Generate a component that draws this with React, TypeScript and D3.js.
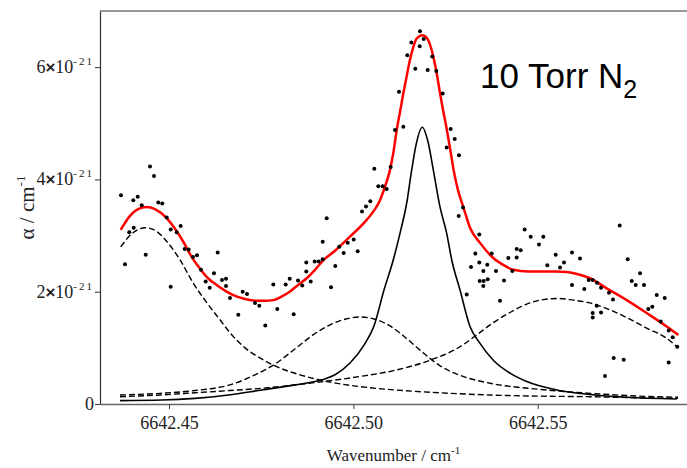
import React, { useEffect, useRef } from "react";
import * as d3 from "d3";

// measured absorption, wavenumber in cm-1, alpha in units of 1e-21 cm-1
const pointWn = [
  6642.43698, 6642.43807, 6642.43923, 6642.44032, 6642.44043, 6642.44151, 6642.4426, 6642.44368, 6642.44485, 6642.44593,
  6642.4471, 6642.44818, 6642.44938, 6642.45046, 6642.45046, 6642.45209, 6642.45317, 6642.45426, 6642.45534, 6642.45651,
  6642.45759, 6642.45868, 6642.45995, 6642.46104, 6642.4622, 6642.46321, 6642.46437, 6642.46546, 6642.46546, 6642.46654,
  6642.4688, 6642.46999, 6642.47116, 6642.47333, 6642.47449, 6642.47829, 6642.47937, 6642.48165, 6642.48274, 6642.48382,
  6642.48499, 6642.47612, 6642.48615, 6642.48724, 6642.48724, 6642.48843, 6642.48952, 6642.4906, 6642.49169, 6642.49394,
  6642.4951, 6642.51808, 6642.51572, 6642.51908, 6642.518, 6642.51463, 6642.52141, 6642.5168, 6642.52017, 6642.5225,
  6642.51238, 6642.52423, 6642.5113, 6642.51355, 6642.5264, 6642.52749, 6642.52532, 6642.52865, 6642.50568, 6642.51013,
  6642.50677, 6642.50796, 6642.50904, 6642.5046, 6642.50343, 6642.50235, 6642.49277, 6642.52974, 6642.52857, 6642.49169,
  6642.49619, 6642.49847, 6642.5001, 6642.49738, 6642.50118, 6642.53416, 6642.53308, 6642.53752, 6642.53416, 6642.53191,
  6642.53525, 6642.53427, 6642.53535, 6642.53525, 6642.53644, 6642.53633, 6642.53869, 6642.53074, 6642.53978, 6642.54086,
  6642.54203, 6642.54311, 6642.5443, 6642.5443, 6642.54539, 6642.54647, 6642.5481, 6642.55035, 6642.55152, 6642.5526,
  6642.55488, 6642.55605, 6642.55713, 6642.5593, 6642.5593, 6642.56147, 6642.56264, 6642.56383, 6642.56492, 6642.56608,
  6642.56717, 6642.56934, 6642.57042, 6642.566, 6642.56492, 6642.56492, 6642.56717, 6642.57224, 6642.57441, 6642.5755,
  6642.57658, 6642.57775, 6642.57883, 6642.58, 6642.58108, 6642.58228, 6642.58336, 6642.58445, 6642.58553, 6642.58662,
  6642.58786, 6642.58553, 6642.57061, 6642.57333, 6642.56825,
];
const pointAlpha = [
  3.72, 2.49, 3.06, 3.63, 3.14, 3.69, 3.54, 2.66, 4.23, 4.06,
  3.59, 3.57, 3.32, 3.11, 2.09, 3.06, 3.17, 2.76, 2.75, 2.62,
  2.65, 2.39, 2.18, 2.07, 2.33, 2.7, 2.21, 2.23, 2.1, 1.89,
  1.59, 2.0, 1.96, 1.8, 1.75, 2.13, 1.69, 2.13, 2.23, 1.6,
  2.2, 1.4, 2.11, 2.36, 2.52, 2.18, 2.54, 2.54, 2.58, 2.08,
  2.46, 6.64, 6.44, 6.5, 6.37, 6.21, 6.19, 5.97, 5.95, 5.93,
  5.56, 5.53, 4.88, 4.94, 4.9, 4.72, 4.57, 4.43, 4.19, 4.22,
  3.88, 3.88, 3.83, 3.61, 3.52, 3.43, 3.31, 3.5, 3.35, 2.89,
  2.8, 2.87, 2.93, 2.69, 2.72, 3.02, 2.68, 2.68, 2.52, 2.44,
  2.37, 2.19, 2.19, 2.1, 2.22, 2.48, 2.37, 1.95, 1.84, 2.2,
  2.6, 2.37, 2.76, 2.61, 2.74, 3.11, 2.98, 2.84, 2.98, 2.47,
  2.66, 2.43, 2.52, 2.7, 2.12, 2.59, 2.05, 2.21, 2.21, 2.16,
  2.07, 1.98, 1.86, 1.75, 1.62, 1.54, 1.63, 3.18, 2.58, 2.19,
  2.12, 2.33, 2.12, 1.69, 1.73, 1.94, 1.47, 1.89, 1.31, 1.19,
  1.02, 0.74, 0.82, 0.79, 0.5,
];

// total fit (red)
const fitWn = [
  6642.4369, 6642.43942, 6642.44159, 6642.44395, 6642.4462, 6642.44938, 6642.45163, 6642.45388, 6642.45597, 6642.45841,
  6642.46058, 6642.46294, 6642.46519, 6642.46744, 6642.47061, 6642.47379, 6642.47604, 6642.47829, 6642.48038, 6642.48255,
  6642.48499, 6642.48735, 6642.4896, 6642.49185, 6642.49502, 6642.49909, 6642.50362, 6642.50587, 6642.50723, 6642.50858,
  6642.50994, 6642.51089, 6642.51176, 6642.51265, 6642.51355, 6642.51447, 6642.51536, 6642.51618, 6642.51718, 6642.5187,
  6642.5197, 6642.52052, 6642.52168, 6642.52269, 6642.5235, 6642.52431, 6642.52526, 6642.52621, 6642.5273, 6642.52838,
  6642.52982, 6642.53164, 6642.53435, 6642.53796, 6642.54113, 6642.54338, 6642.54737, 6642.55152, 6642.55496, 6642.55786,
  6642.56093, 6642.56418, 6642.56871, 6642.57414, 6642.57956, 6642.58499, 6642.58813,
];
const fitAlpha = [
  3.1, 3.35, 3.47, 3.51, 3.47, 3.31, 3.12, 2.89, 2.64, 2.41,
  2.24, 2.12, 2.02, 1.94, 1.87, 1.84, 1.84, 1.85, 1.91, 1.99,
  2.12, 2.24, 2.39, 2.56, 2.73, 2.98, 3.28, 3.47, 3.63, 3.87,
  4.17, 4.49, 4.88, 5.2, 5.53, 5.84, 6.13, 6.34, 6.51, 6.57,
  6.54, 6.45, 6.19, 5.86, 5.54, 5.24, 4.92, 4.56, 4.13, 3.81,
  3.51, 3.14, 2.87, 2.6, 2.46, 2.39, 2.36, 2.36, 2.36, 2.35,
  2.31, 2.24, 2.06, 1.85, 1.62, 1.38, 1.23,
];

// strong central component (solid)
const mainWn = [
  6642.43671, 6642.44802, 6642.45705, 6642.46608, 6642.47514, 6642.48417, 6642.49142, 6642.49502, 6642.49909, 6642.50289,
  6642.5056, 6642.50831, 6642.51084, 6642.51265, 6642.51447, 6642.51583, 6642.51699, 6642.5187, 6642.52025, 6642.52168,
  6642.5235, 6642.52532, 6642.52667, 6642.52893, 6642.53164, 6642.53435, 6642.53796, 6642.54249, 6642.54702, 6642.55515,
  6642.56418, 6642.57414, 6642.5877,
];
const mainAlpha = [
  0.06, 0.07, 0.1, 0.16, 0.25, 0.34, 0.43, 0.52, 0.73, 1.05,
  1.39, 2.03, 2.57, 3.04, 3.58, 4.17, 4.61, 4.93, 4.67, 4.17,
  3.51, 3.04, 2.57, 2.03, 1.38, 1.08, 0.78, 0.55, 0.4, 0.25,
  0.17, 0.12, 0.09,
];

// dashed components
const leftWn = [
  6642.4369, 6642.44024, 6642.44349, 6642.44675, 6642.44946, 6642.45298, 6642.45651, 6642.46031, 6642.46383, 6642.46654,
  6642.47061, 6642.47468, 6642.48011, 6642.48553, 6642.49367, 6642.5018, 6642.5113, 6642.5235, 6642.53706, 6642.55062,
  6642.56418, 6642.57775, 6642.58805,
];
const leftAlpha = [
  2.8, 3.05, 3.14, 3.07, 2.89, 2.57, 2.16, 1.8, 1.5, 1.27,
  1.0, 0.82, 0.64, 0.52, 0.39, 0.31, 0.25, 0.2, 0.16, 0.14,
  0.13, 0.11, 0.1,
];

const midWn = [
  6642.43671, 6642.44756, 6642.45841, 6642.46654, 6642.47333, 6642.47875, 6642.48417, 6642.48906, 6642.49367, 6642.49774,
  6642.5018, 6642.50587, 6642.50994, 6642.51401, 6642.51808, 6642.5235, 6642.53028, 6642.53706, 6642.55062, 6642.56418,
  6642.57775, 6642.58805,
];
const midAlpha = [
  0.16, 0.19, 0.25, 0.34, 0.52, 0.71, 0.98, 1.23, 1.41, 1.51,
  1.55, 1.51, 1.39, 1.19, 0.96, 0.68, 0.48, 0.37, 0.26, 0.19,
  0.14, 0.12,
];

const rightWn = [
  6642.43671, 6642.44756, 6642.45705, 6642.46654, 6642.47514, 6642.48417, 6642.49312, 6642.5018, 6642.5113, 6642.52079,
  6642.52893, 6642.53345, 6642.53796, 6642.54249, 6642.54702, 6642.55152, 6642.55551, 6642.55966, 6642.56418, 6642.56871,
  6642.57414, 6642.57956, 6642.58499, 6642.58805,
];
const rightAlpha = [
  0.13, 0.16, 0.2, 0.24, 0.28, 0.34, 0.41, 0.49, 0.6, 0.78,
  1.02, 1.23, 1.45, 1.63, 1.78, 1.86, 1.88, 1.85, 1.8, 1.7,
  1.54, 1.35, 1.17, 1.0,
];

const xTicks = [6642.45, 6642.5, 6642.55];
const yTicks = [0, 2, 4, 6];

const W = 687;
const H = 468;
const serif = "'Liberation Serif', 'Times New Roman', serif";
const sans = "'Liberation Sans', Arial, sans-serif";

const App = () => {
  const ref = useRef<SVGSVGElement>(null);

  useEffect(() => {
    const svg = d3.select(ref.current);
    svg.selectAll("*").remove();

    const margin = { top: 11, right: 0, bottom: 64, left: 100 };

    const x = d3.scaleLinear()
      .domain([6642.43129, 6642.59049])
      .range([margin.left, W - margin.right]);
    const y = d3.scaleLinear()
      .domain([0, 7])
      .range([H - margin.bottom, margin.top]);

    const line = d3.line<[number, number]>()
      .x(d => x(d[0]))
      .y(d => y(d[1]))
      .curve(d3.curveMonotoneX);

    // frame: top line, left and bottom axes
    svg.append("line")
      .attr("x1", x.range()[0]).attr("x2", x.range()[1])
      .attr("y1", y.range()[1]).attr("y2", y.range()[1])
      .attr("stroke", "#333").attr("stroke-width", 1.2);

    const xAxis = svg.append("g")
      .attr("transform", `translate(0,${y(0)})`)
      .call(d3.axisBottom(x).tickValues(xTicks).tickSize(5).tickSizeOuter(0).tickFormat(d3.format(".2f")));
    xAxis.select(".domain").attr("stroke", "#666").attr("stroke-width", 1.6);
    xAxis.selectAll(".tick line").attr("stroke", "#444");
    xAxis.selectAll(".tick text")
      .attr("font-family", serif).attr("font-size", 18).attr("fill", "#222").attr("dy", null).attr("y", 25);

    const yAxis = svg.append("g")
      .attr("transform", `translate(${x.range()[0]},0)`)
      .call(d3.axisLeft(y).tickValues(yTicks).tickSize(5).tickSizeOuter(0).tickFormat(() => ""));
    yAxis.select(".domain").attr("stroke", "#333").attr("stroke-width", 1.2);
    yAxis.selectAll(".tick line").attr("stroke", "#333");

    // y tick labels like 6x10^-21
    yTicks.forEach(t => {
      const label = svg.append("text")
        .attr("x", x.range()[0] - 6)
        .attr("y", y(t) + 6)
        .attr("text-anchor", "end")
        .attr("font-family", serif)
        .attr("font-size", 18)
        .attr("fill", "#222");
      if (t === 0) {
        label.text("0");
        return;
      }
      label.append("tspan").text(String(t));
      label.append("tspan")
        .attr("font-family", sans)
        .attr("font-weight", "bold")
        .attr("font-size", 17)
        .text("\u00d7");
      label.append("tspan").text("10");
      label.append("tspan")
        .attr("font-size", 11)
        .attr("dy", -8)
        .attr("letter-spacing", 2)
        .text("-21");
    });

    // components
    [[leftWn, leftAlpha], [midWn, midAlpha], [rightWn, rightAlpha]].forEach(([wn, al]) => {
      svg.append("path")
        .attr("d", line(d3.zip(wn, al) as [number, number][]))
        .attr("fill", "none").attr("stroke", "#000").attr("stroke-width", 1.4).attr("stroke-dasharray", "6,3");
    });
    svg.append("path")
      .attr("d", line(d3.zip(mainWn, mainAlpha) as [number, number][]))
      .attr("fill", "none").attr("stroke", "#000").attr("stroke-width", 1.6);

    // fit
    svg.append("path")
      .attr("d", line(d3.zip(fitWn, fitAlpha) as [number, number][]))
      .attr("fill", "none").attr("stroke", "#ff0000").attr("stroke-width", 2.5);

    // measured points
    svg.append("g")
      .selectAll("circle")
      .data(d3.zip(pointWn, pointAlpha))
      .enter().append("circle")
      .attr("cx", d => x(d[0]))
      .attr("cy", d => y(d[1]))
      .attr("r", 2)
      .attr("fill", "#000");

    // axis titles
    const xt = svg.append("text")
      .attr("x", (x.range()[0] + x.range()[1]) / 2)
      .attr("y", 461)
      .attr("text-anchor", "middle")
      .attr("font-family", serif).attr("font-size", 17).attr("fill", "#222");
    xt.append("tspan").text("Wavenumber / cm");
    xt.append("tspan").attr("font-size", 11).attr("dy", -7).text("-1");

    const yt = svg.append("text")
      .attr("transform", `translate(34,${(y.range()[0] + y.range()[1]) / 2}) rotate(-90)`)
      .attr("text-anchor", "middle")
      .attr("font-family", serif).attr("font-size", 21).attr("fill", "#222");
    yt.append("tspan").text("\u03b1 / cm");
    yt.append("tspan").attr("font-size", 13).attr("dy", -9).text("-1");

    // annotation
    const note = svg.append("text")
      .attr("x", 480)
      .attr("y", 88)
      .attr("font-family", sans)
      .attr("font-size", 35)
      .attr("fill", "#000");
    note.append("tspan").text("10 Torr N");
    note.append("tspan").attr("font-size", 25).attr("dy", 10).text("2");
  }, []);

  return (
    <div>
      <svg ref={ref} width={W} height={H}
        style={{ position: "absolute", left: 0, top: 0, background: "#fff" }} />
    </div>
  );
};

export default App;
